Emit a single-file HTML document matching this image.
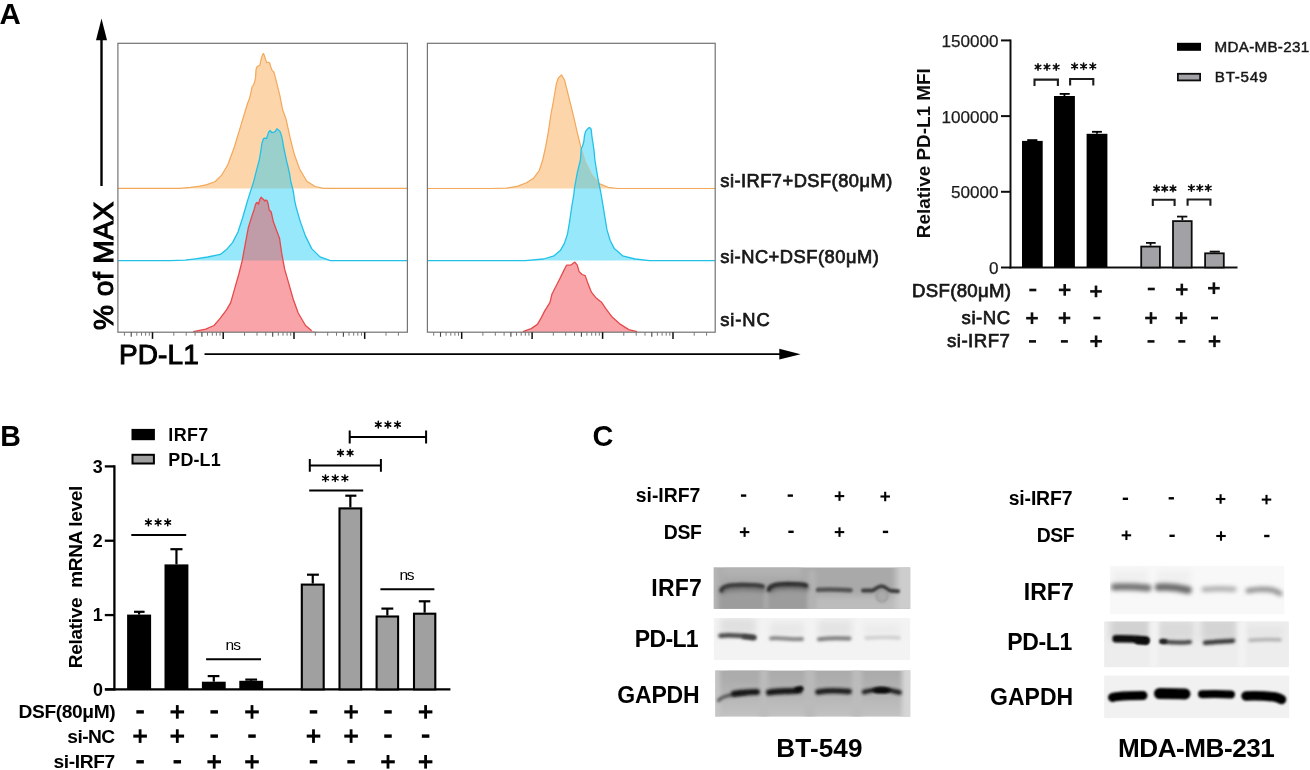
<!DOCTYPE html>
<html><head><meta charset="utf-8"><style>
html,body{margin:0;padding:0;background:#fff;width:1310px;height:770px;overflow:hidden}
text{font-family:'Liberation Sans', sans-serif}
</style></head><body>
<svg width="1310" height="770" viewBox="0 0 1310 770" style="display:block;font-family:'Liberation Sans', sans-serif">
<rect width="1310" height="770" fill="#fff"/>
<defs><filter id="soft" filterUnits="userSpaceOnUse" x="0" y="0" width="1310" height="770"><feGaussianBlur stdDeviation="0.4"/></filter></defs><g filter="url(#soft)">
<clipPath id="orL"><polygon points="118.0,188.4 180.0,188.4 190.4,187.4 200.0,186.2 207.0,184.6 215.3,181.5 221.6,175.2 227.8,164.8 234.0,148.0 240.3,127.3 245.5,110.0 247.6,103.3 249.3,99.1 251.0,92.3 252.2,86.4 253.5,85.1 254.8,81.3 255.6,77.1 256.0,69.5 256.9,67.0 258.6,65.7 259.8,65.3 261.1,59.4 262.4,55.1 263.5,53.4 264.5,56.0 265.8,60.2 267.0,62.7 268.3,62.3 269.6,62.7 270.8,67.0 272.1,70.3 273.8,72.0 275.1,76.3 276.3,81.3 278.0,88.1 279.7,94.8 281.4,103.3 282.7,110.0 286.0,119.0 290.1,137.7 294.3,154.3 299.5,168.8 306.8,181.3 315.1,186.5 323.4,188.4 407.4,188.4"/></clipPath>
<clipPath id="cyL"><polygon points="118.0,260.6 170.0,260.6 185.0,260.2 195.3,258.8 207.8,257.0 220.3,254.4 226.5,249.6 232.7,242.4 238.0,232.0 242.1,219.5 246.3,205.0 247.8,199.9 250.4,191.6 253.5,182.3 256.6,169.8 259.2,160.5 260.8,151.1 261.8,143.9 263.4,138.7 264.9,138.2 266.5,138.7 267.5,135.6 268.5,132.5 270.1,130.4 271.7,132.5 273.7,132.3 275.3,131.4 276.9,128.8 278.4,129.9 280.0,131.4 281.5,135.6 282.6,140.8 283.6,147.0 285.2,154.3 286.7,161.5 288.3,167.8 289.8,175.0 290.9,182.3 292.4,187.5 293.5,192.7 294.5,199.9 296.1,207.0 300.3,221.6 305.5,236.1 311.7,248.6 320.0,256.9 330.4,260.6 407.4,260.6"/></clipPath>
<polygon points="118.0,188.4 180.0,188.4 190.4,187.4 200.0,186.2 207.0,184.6 215.3,181.5 221.6,175.2 227.8,164.8 234.0,148.0 240.3,127.3 245.5,110.0 247.6,103.3 249.3,99.1 251.0,92.3 252.2,86.4 253.5,85.1 254.8,81.3 255.6,77.1 256.0,69.5 256.9,67.0 258.6,65.7 259.8,65.3 261.1,59.4 262.4,55.1 263.5,53.4 264.5,56.0 265.8,60.2 267.0,62.7 268.3,62.3 269.6,62.7 270.8,67.0 272.1,70.3 273.8,72.0 275.1,76.3 276.3,81.3 278.0,88.1 279.7,94.8 281.4,103.3 282.7,110.0 286.0,119.0 290.1,137.7 294.3,154.3 299.5,168.8 306.8,181.3 315.1,186.5 323.4,188.4 407.4,188.4" fill="#fdd5ab"/>
<polygon points="118.0,260.6 170.0,260.6 185.0,260.2 195.3,258.8 207.8,257.0 220.3,254.4 226.5,249.6 232.7,242.4 238.0,232.0 242.1,219.5 246.3,205.0 247.8,199.9 250.4,191.6 253.5,182.3 256.6,169.8 259.2,160.5 260.8,151.1 261.8,143.9 263.4,138.7 264.9,138.2 266.5,138.7 267.5,135.6 268.5,132.5 270.1,130.4 271.7,132.5 273.7,132.3 275.3,131.4 276.9,128.8 278.4,129.9 280.0,131.4 281.5,135.6 282.6,140.8 283.6,147.0 285.2,154.3 286.7,161.5 288.3,167.8 289.8,175.0 290.9,182.3 292.4,187.5 293.5,192.7 294.5,199.9 296.1,207.0 300.3,221.6 305.5,236.1 311.7,248.6 320.0,256.9 330.4,260.6 407.4,260.6" fill="#97e8fb"/>
<polygon points="118.0,260.6 170.0,260.6 185.0,260.2 195.3,258.8 207.8,257.0 220.3,254.4 226.5,249.6 232.7,242.4 238.0,232.0 242.1,219.5 246.3,205.0 247.8,199.9 250.4,191.6 253.5,182.3 256.6,169.8 259.2,160.5 260.8,151.1 261.8,143.9 263.4,138.7 264.9,138.2 266.5,138.7 267.5,135.6 268.5,132.5 270.1,130.4 271.7,132.5 273.7,132.3 275.3,131.4 276.9,128.8 278.4,129.9 280.0,131.4 281.5,135.6 282.6,140.8 283.6,147.0 285.2,154.3 286.7,161.5 288.3,167.8 289.8,175.0 290.9,182.3 292.4,187.5 293.5,192.7 294.5,199.9 296.1,207.0 300.3,221.6 305.5,236.1 311.7,248.6 320.0,256.9 330.4,260.6 407.4,260.6" fill="#99d0cc" clip-path="url(#orL)"/>
<polygon points="118.0,332.0 190.0,332.0 193.3,331.7 205.7,329.2 214.0,325.5 220.3,318.2 226.5,309.9 230.7,302.6 234.8,288.1 239.0,273.5 242.1,261.1 245.2,244.4 248.3,227.8 251.5,217.4 254.1,209.7 255.6,204.2 256.9,202.4 258.4,204.2 259.9,199.3 261.1,197.2 262.4,198.7 263.6,199.3 264.8,201.1 266.0,199.9 267.3,201.1 268.2,204.2 269.1,209.7 271.2,212.0 273.3,221.6 276.4,229.9 279.5,238.2 281.6,252.7 284.7,269.4 288.9,283.9 293.0,298.5 298.2,313.0 305.5,325.5 311.7,330.7 318.0,332.0 407.4,332.0" fill="#f8a4a8"/>
<polygon points="118.0,332.0 190.0,332.0 193.3,331.7 205.7,329.2 214.0,325.5 220.3,318.2 226.5,309.9 230.7,302.6 234.8,288.1 239.0,273.5 242.1,261.1 245.2,244.4 248.3,227.8 251.5,217.4 254.1,209.7 255.6,204.2 256.9,202.4 258.4,204.2 259.9,199.3 261.1,197.2 262.4,198.7 263.6,199.3 264.8,201.1 266.0,199.9 267.3,201.1 268.2,204.2 269.1,209.7 271.2,212.0 273.3,221.6 276.4,229.9 279.5,238.2 281.6,252.7 284.7,269.4 288.9,283.9 293.0,298.5 298.2,313.0 305.5,325.5 311.7,330.7 318.0,332.0 407.4,332.0" fill="#c09ca8" clip-path="url(#cyL)"/>
<mask id="ncL" maskUnits="userSpaceOnUse" x="0" y="0" width="1310" height="770"><rect x="0" y="0" width="1310" height="770" fill="#fff"/><polygon points="118.0,260.6 170.0,260.6 185.0,260.2 195.3,258.8 207.8,257.0 220.3,254.4 226.5,249.6 232.7,242.4 238.0,232.0 242.1,219.5 246.3,205.0 247.8,199.9 250.4,191.6 253.5,182.3 256.6,169.8 259.2,160.5 260.8,151.1 261.8,143.9 263.4,138.7 264.9,138.2 266.5,138.7 267.5,135.6 268.5,132.5 270.1,130.4 271.7,132.5 273.7,132.3 275.3,131.4 276.9,128.8 278.4,129.9 280.0,131.4 281.5,135.6 282.6,140.8 283.6,147.0 285.2,154.3 286.7,161.5 288.3,167.8 289.8,175.0 290.9,182.3 292.4,187.5 293.5,192.7 294.5,199.9 296.1,207.0 300.3,221.6 305.5,236.1 311.7,248.6 320.0,256.9 330.4,260.6 407.4,260.6" fill="#000"/></mask>
<polyline points="118.0,188.4 180.0,188.4 190.4,187.4 200.0,186.2 207.0,184.6 215.3,181.5 221.6,175.2 227.8,164.8 234.0,148.0 240.3,127.3 245.5,110.0 247.6,103.3 249.3,99.1 251.0,92.3 252.2,86.4 253.5,85.1 254.8,81.3 255.6,77.1 256.0,69.5 256.9,67.0 258.6,65.7 259.8,65.3 261.1,59.4 262.4,55.1 263.5,53.4 264.5,56.0 265.8,60.2 267.0,62.7 268.3,62.3 269.6,62.7 270.8,67.0 272.1,70.3 273.8,72.0 275.1,76.3 276.3,81.3 278.0,88.1 279.7,94.8 281.4,103.3 282.7,110.0 286.0,119.0 290.1,137.7 294.3,154.3 299.5,168.8 306.8,181.3 315.1,186.5 323.4,188.4 407.4,188.4" fill="none" stroke="#f3a85a" stroke-width="1.2" stroke-linejoin="round" mask="url(#ncL)"/>
<polyline points="118.0,188.4 180.0,188.4 190.4,187.4 200.0,186.2 207.0,184.6 215.3,181.5 221.6,175.2 227.8,164.8 234.0,148.0 240.3,127.3 245.5,110.0 247.6,103.3 249.3,99.1 251.0,92.3 252.2,86.4 253.5,85.1 254.8,81.3 255.6,77.1 256.0,69.5 256.9,67.0 258.6,65.7 259.8,65.3 261.1,59.4 262.4,55.1 263.5,53.4 264.5,56.0 265.8,60.2 267.0,62.7 268.3,62.3 269.6,62.7 270.8,67.0 272.1,70.3 273.8,72.0 275.1,76.3 276.3,81.3 278.0,88.1 279.7,94.8 281.4,103.3 282.7,110.0 286.0,119.0 290.1,137.7 294.3,154.3 299.5,168.8 306.8,181.3 315.1,186.5 323.4,188.4 407.4,188.4" fill="none" stroke="#f3a85a" stroke-width="1.2" stroke-linejoin="round" clip-path="url(#cyL)" opacity="0.35"/>
<polyline points="118.0,260.6 170.0,260.6 185.0,260.2 195.3,258.8 207.8,257.0 220.3,254.4 226.5,249.6 232.7,242.4 238.0,232.0 242.1,219.5 246.3,205.0 247.8,199.9 250.4,191.6 253.5,182.3 256.6,169.8 259.2,160.5 260.8,151.1 261.8,143.9 263.4,138.7 264.9,138.2 266.5,138.7 267.5,135.6 268.5,132.5 270.1,130.4 271.7,132.5 273.7,132.3 275.3,131.4 276.9,128.8 278.4,129.9 280.0,131.4 281.5,135.6 282.6,140.8 283.6,147.0 285.2,154.3 286.7,161.5 288.3,167.8 289.8,175.0 290.9,182.3 292.4,187.5 293.5,192.7 294.5,199.9 296.1,207.0 300.3,221.6 305.5,236.1 311.7,248.6 320.0,256.9 330.4,260.6 407.4,260.6" fill="none" stroke="#22c2e8" stroke-width="1.3" stroke-linejoin="round"/>
<polyline points="193.3,331.7 205.7,329.2 214.0,325.5 220.3,318.2 226.5,309.9 230.7,302.6 234.8,288.1 239.0,273.5 242.1,261.1 245.2,244.4 248.3,227.8 251.5,217.4 254.1,209.7 255.6,204.2 256.9,202.4 258.4,204.2 259.9,199.3 261.1,197.2 262.4,198.7 263.6,199.3 264.8,201.1 266.0,199.9 267.3,201.1 268.2,204.2 269.1,209.7 271.2,212.0 273.3,221.6 276.4,229.9 279.5,238.2 281.6,252.7 284.7,269.4 288.9,283.9 293.0,298.5 298.2,313.0 305.5,325.5 311.7,330.7" fill="none" stroke="#e64a4c" stroke-width="1.3" stroke-linejoin="round"/>
<rect x="117.9" y="43.3" width="289.5" height="288.9" fill="none" stroke="#747474" stroke-width="1.2"/>
<line x1="124.4" y1="332.2" x2="124.4" y2="335.7" stroke="#777" stroke-width="1"/>
<line x1="131.2" y1="332.2" x2="131.2" y2="336.8" stroke="#444" stroke-width="1.1"/>
<line x1="136.8" y1="332.2" x2="136.8" y2="335.7" stroke="#777" stroke-width="1"/>
<line x1="141.5" y1="332.2" x2="141.5" y2="335.7" stroke="#777" stroke-width="1"/>
<line x1="145.6" y1="332.2" x2="145.6" y2="335.7" stroke="#777" stroke-width="1"/>
<line x1="149.3" y1="332.2" x2="149.3" y2="335.7" stroke="#777" stroke-width="1"/>
<line x1="152.5" y1="332.2" x2="152.5" y2="338.9" stroke="#111" stroke-width="1.5"/>
<line x1="173.8" y1="332.2" x2="173.8" y2="335.7" stroke="#777" stroke-width="1"/>
<line x1="186.2" y1="332.2" x2="186.2" y2="335.7" stroke="#777" stroke-width="1"/>
<line x1="195.1" y1="332.2" x2="195.1" y2="335.7" stroke="#777" stroke-width="1"/>
<line x1="201.9" y1="332.2" x2="201.9" y2="336.8" stroke="#444" stroke-width="1.1"/>
<line x1="207.5" y1="332.2" x2="207.5" y2="335.7" stroke="#777" stroke-width="1"/>
<line x1="212.3" y1="332.2" x2="212.3" y2="335.7" stroke="#777" stroke-width="1"/>
<line x1="216.4" y1="332.2" x2="216.4" y2="335.7" stroke="#777" stroke-width="1"/>
<line x1="220.0" y1="332.2" x2="220.0" y2="335.7" stroke="#777" stroke-width="1"/>
<line x1="223.2" y1="332.2" x2="223.2" y2="338.9" stroke="#111" stroke-width="1.5"/>
<line x1="244.5" y1="332.2" x2="244.5" y2="335.7" stroke="#777" stroke-width="1"/>
<line x1="257.0" y1="332.2" x2="257.0" y2="335.7" stroke="#777" stroke-width="1"/>
<line x1="265.8" y1="332.2" x2="265.8" y2="335.7" stroke="#777" stroke-width="1"/>
<line x1="272.7" y1="332.2" x2="272.7" y2="336.8" stroke="#444" stroke-width="1.1"/>
<line x1="278.3" y1="332.2" x2="278.3" y2="335.7" stroke="#777" stroke-width="1"/>
<line x1="283.0" y1="332.2" x2="283.0" y2="335.7" stroke="#777" stroke-width="1"/>
<line x1="287.1" y1="332.2" x2="287.1" y2="335.7" stroke="#777" stroke-width="1"/>
<line x1="290.7" y1="332.2" x2="290.7" y2="335.7" stroke="#777" stroke-width="1"/>
<line x1="294.0" y1="332.2" x2="294.0" y2="338.9" stroke="#111" stroke-width="1.5"/>
<line x1="315.3" y1="332.2" x2="315.3" y2="335.7" stroke="#777" stroke-width="1"/>
<line x1="327.7" y1="332.2" x2="327.7" y2="335.7" stroke="#777" stroke-width="1"/>
<line x1="336.5" y1="332.2" x2="336.5" y2="335.7" stroke="#777" stroke-width="1"/>
<line x1="343.4" y1="332.2" x2="343.4" y2="336.8" stroke="#444" stroke-width="1.1"/>
<line x1="349.0" y1="332.2" x2="349.0" y2="335.7" stroke="#777" stroke-width="1"/>
<line x1="353.7" y1="332.2" x2="353.7" y2="335.7" stroke="#777" stroke-width="1"/>
<line x1="357.8" y1="332.2" x2="357.8" y2="335.7" stroke="#777" stroke-width="1"/>
<line x1="361.5" y1="332.2" x2="361.5" y2="335.7" stroke="#777" stroke-width="1"/>
<line x1="364.7" y1="332.2" x2="364.7" y2="338.9" stroke="#111" stroke-width="1.5"/>
<line x1="386.0" y1="332.2" x2="386.0" y2="335.7" stroke="#777" stroke-width="1"/>
<line x1="398.4" y1="332.2" x2="398.4" y2="335.7" stroke="#777" stroke-width="1"/>
<clipPath id="orR"><polygon points="428.0,188.5 490.0,188.5 506.4,188.2 517.3,186.4 526.4,182.7 533.6,178.2 539.1,170.9 542.7,160.0 545.5,147.3 548.2,132.7 550.9,114.5 553.6,100.0 556.4,83.6 558.2,78.2 561.5,74.9 564.5,80.0 566.4,87.3 570.0,101.8 573.6,116.4 577.3,132.7 580.9,147.3 585.5,161.8 591.8,174.5 599.1,183.6 608.2,187.3 617.3,188.5 715.0,188.5"/></clipPath>
<clipPath id="cyR"><polygon points="428.0,260.6 524.9,260.6 543.6,259.0 554.0,255.8 560.3,250.6 564.4,243.4 567.5,234.0 569.6,221.6 571.7,207.0 573.8,194.5 574.5,188.0 577.3,172.7 580.4,160.0 581.2,149.1 582.5,146.0 583.8,141.8 584.5,135.6 585.6,131.4 587.1,129.4 589.2,127.5 590.8,128.3 591.3,130.4 591.8,135.6 592.6,140.8 593.4,146.0 594.2,152.2 594.9,160.0 596.5,170.0 598.2,180.0 600.8,192.5 602.9,204.9 604.9,217.4 607.0,229.9 610.1,240.3 614.3,248.6 622.6,255.8 635.1,259.0 649.6,260.6 715.0,260.6"/></clipPath>
<polygon points="428.0,188.5 490.0,188.5 506.4,188.2 517.3,186.4 526.4,182.7 533.6,178.2 539.1,170.9 542.7,160.0 545.5,147.3 548.2,132.7 550.9,114.5 553.6,100.0 556.4,83.6 558.2,78.2 561.5,74.9 564.5,80.0 566.4,87.3 570.0,101.8 573.6,116.4 577.3,132.7 580.9,147.3 585.5,161.8 591.8,174.5 599.1,183.6 608.2,187.3 617.3,188.5 715.0,188.5" fill="#fdd5ab"/>
<polygon points="428.0,260.6 524.9,260.6 543.6,259.0 554.0,255.8 560.3,250.6 564.4,243.4 567.5,234.0 569.6,221.6 571.7,207.0 573.8,194.5 574.5,188.0 577.3,172.7 580.4,160.0 581.2,149.1 582.5,146.0 583.8,141.8 584.5,135.6 585.6,131.4 587.1,129.4 589.2,127.5 590.8,128.3 591.3,130.4 591.8,135.6 592.6,140.8 593.4,146.0 594.2,152.2 594.9,160.0 596.5,170.0 598.2,180.0 600.8,192.5 602.9,204.9 604.9,217.4 607.0,229.9 610.1,240.3 614.3,248.6 622.6,255.8 635.1,259.0 649.6,260.6 715.0,260.6" fill="#97e8fb"/>
<polygon points="428.0,260.6 524.9,260.6 543.6,259.0 554.0,255.8 560.3,250.6 564.4,243.4 567.5,234.0 569.6,221.6 571.7,207.0 573.8,194.5 574.5,188.0 577.3,172.7 580.4,160.0 581.2,149.1 582.5,146.0 583.8,141.8 584.5,135.6 585.6,131.4 587.1,129.4 589.2,127.5 590.8,128.3 591.3,130.4 591.8,135.6 592.6,140.8 593.4,146.0 594.2,152.2 594.9,160.0 596.5,170.0 598.2,180.0 600.8,192.5 602.9,204.9 604.9,217.4 607.0,229.9 610.1,240.3 614.3,248.6 622.6,255.8 635.1,259.0 649.6,260.6 715.0,260.6" fill="#99d0cc" clip-path="url(#orR)"/>
<polygon points="428.0,332.0 515.0,332.0 522.9,331.7 531.2,328.6 537.4,324.4 541.6,317.1 544.7,310.9 549.9,302.6 551.9,294.3 556.1,286.0 560.3,277.7 563.4,271.4 566.5,265.2 570.6,265.2 574.8,262.1 577.3,265.2 579.0,271.4 582.1,274.5 585.2,275.6 587.3,281.8 591.4,292.2 595.6,297.4 601.8,302.6 606.0,308.8 612.2,317.1 620.5,324.4 628.8,329.6 637.1,331.7 645.0,332.0 715.0,332.0" fill="#f8a4a8"/>
<polygon points="428.0,332.0 515.0,332.0 522.9,331.7 531.2,328.6 537.4,324.4 541.6,317.1 544.7,310.9 549.9,302.6 551.9,294.3 556.1,286.0 560.3,277.7 563.4,271.4 566.5,265.2 570.6,265.2 574.8,262.1 577.3,265.2 579.0,271.4 582.1,274.5 585.2,275.6 587.3,281.8 591.4,292.2 595.6,297.4 601.8,302.6 606.0,308.8 612.2,317.1 620.5,324.4 628.8,329.6 637.1,331.7 645.0,332.0 715.0,332.0" fill="#c09ca8" clip-path="url(#cyR)"/>
<mask id="ncR" maskUnits="userSpaceOnUse" x="0" y="0" width="1310" height="770"><rect x="0" y="0" width="1310" height="770" fill="#fff"/><polygon points="428.0,260.6 524.9,260.6 543.6,259.0 554.0,255.8 560.3,250.6 564.4,243.4 567.5,234.0 569.6,221.6 571.7,207.0 573.8,194.5 574.5,188.0 577.3,172.7 580.4,160.0 581.2,149.1 582.5,146.0 583.8,141.8 584.5,135.6 585.6,131.4 587.1,129.4 589.2,127.5 590.8,128.3 591.3,130.4 591.8,135.6 592.6,140.8 593.4,146.0 594.2,152.2 594.9,160.0 596.5,170.0 598.2,180.0 600.8,192.5 602.9,204.9 604.9,217.4 607.0,229.9 610.1,240.3 614.3,248.6 622.6,255.8 635.1,259.0 649.6,260.6 715.0,260.6" fill="#000"/></mask>
<polyline points="428.0,188.5 490.0,188.5 506.4,188.2 517.3,186.4 526.4,182.7 533.6,178.2 539.1,170.9 542.7,160.0 545.5,147.3 548.2,132.7 550.9,114.5 553.6,100.0 556.4,83.6 558.2,78.2 561.5,74.9 564.5,80.0 566.4,87.3 570.0,101.8 573.6,116.4 577.3,132.7 580.9,147.3 585.5,161.8 591.8,174.5 599.1,183.6 608.2,187.3 617.3,188.5 715.0,188.5" fill="none" stroke="#f3a85a" stroke-width="1.2" stroke-linejoin="round" mask="url(#ncR)"/>
<polyline points="428.0,188.5 490.0,188.5 506.4,188.2 517.3,186.4 526.4,182.7 533.6,178.2 539.1,170.9 542.7,160.0 545.5,147.3 548.2,132.7 550.9,114.5 553.6,100.0 556.4,83.6 558.2,78.2 561.5,74.9 564.5,80.0 566.4,87.3 570.0,101.8 573.6,116.4 577.3,132.7 580.9,147.3 585.5,161.8 591.8,174.5 599.1,183.6 608.2,187.3 617.3,188.5 715.0,188.5" fill="none" stroke="#f3a85a" stroke-width="1.2" stroke-linejoin="round" clip-path="url(#cyR)" opacity="0.35"/>
<polyline points="428.0,260.6 524.9,260.6 543.6,259.0 554.0,255.8 560.3,250.6 564.4,243.4 567.5,234.0 569.6,221.6 571.7,207.0 573.8,194.5 574.5,188.0 577.3,172.7 580.4,160.0 581.2,149.1 582.5,146.0 583.8,141.8 584.5,135.6 585.6,131.4 587.1,129.4 589.2,127.5 590.8,128.3 591.3,130.4 591.8,135.6 592.6,140.8 593.4,146.0 594.2,152.2 594.9,160.0 596.5,170.0 598.2,180.0 600.8,192.5 602.9,204.9 604.9,217.4 607.0,229.9 610.1,240.3 614.3,248.6 622.6,255.8 635.1,259.0 649.6,260.6 715.0,260.6" fill="none" stroke="#22c2e8" stroke-width="1.3" stroke-linejoin="round"/>
<polyline points="522.9,331.7 531.2,328.6 537.4,324.4 541.6,317.1 544.7,310.9 549.9,302.6 551.9,294.3 556.1,286.0 560.3,277.7 563.4,271.4 566.5,265.2 570.6,265.2 574.8,262.1 577.3,265.2 579.0,271.4 582.1,274.5 585.2,275.6 587.3,281.8 591.4,292.2 595.6,297.4 601.8,302.6 606.0,308.8 612.2,317.1 620.5,324.4 628.8,329.6 637.1,331.7" fill="none" stroke="#e64a4c" stroke-width="1.3" stroke-linejoin="round"/>
<rect x="427.4" y="43.3" width="287.8" height="288.9" fill="none" stroke="#747474" stroke-width="1.2"/>
<line x1="433.7" y1="332.2" x2="433.7" y2="335.7" stroke="#777" stroke-width="1"/>
<line x1="440.5" y1="332.2" x2="440.5" y2="336.8" stroke="#444" stroke-width="1.1"/>
<line x1="446.1" y1="332.2" x2="446.1" y2="335.7" stroke="#777" stroke-width="1"/>
<line x1="450.8" y1="332.2" x2="450.8" y2="335.7" stroke="#777" stroke-width="1"/>
<line x1="454.9" y1="332.2" x2="454.9" y2="335.7" stroke="#777" stroke-width="1"/>
<line x1="458.5" y1="332.2" x2="458.5" y2="335.7" stroke="#777" stroke-width="1"/>
<line x1="461.7" y1="332.2" x2="461.7" y2="338.9" stroke="#111" stroke-width="1.5"/>
<line x1="482.9" y1="332.2" x2="482.9" y2="335.7" stroke="#777" stroke-width="1"/>
<line x1="495.3" y1="332.2" x2="495.3" y2="335.7" stroke="#777" stroke-width="1"/>
<line x1="504.1" y1="332.2" x2="504.1" y2="335.7" stroke="#777" stroke-width="1"/>
<line x1="510.9" y1="332.2" x2="510.9" y2="336.8" stroke="#444" stroke-width="1.1"/>
<line x1="516.5" y1="332.2" x2="516.5" y2="335.7" stroke="#777" stroke-width="1"/>
<line x1="521.2" y1="332.2" x2="521.2" y2="335.7" stroke="#777" stroke-width="1"/>
<line x1="525.3" y1="332.2" x2="525.3" y2="335.7" stroke="#777" stroke-width="1"/>
<line x1="528.9" y1="332.2" x2="528.9" y2="335.7" stroke="#777" stroke-width="1"/>
<line x1="532.1" y1="332.2" x2="532.1" y2="338.9" stroke="#111" stroke-width="1.5"/>
<line x1="553.3" y1="332.2" x2="553.3" y2="335.7" stroke="#777" stroke-width="1"/>
<line x1="565.7" y1="332.2" x2="565.7" y2="335.7" stroke="#777" stroke-width="1"/>
<line x1="574.5" y1="332.2" x2="574.5" y2="335.7" stroke="#777" stroke-width="1"/>
<line x1="581.4" y1="332.2" x2="581.4" y2="336.8" stroke="#444" stroke-width="1.1"/>
<line x1="586.9" y1="332.2" x2="586.9" y2="335.7" stroke="#777" stroke-width="1"/>
<line x1="591.7" y1="332.2" x2="591.7" y2="335.7" stroke="#777" stroke-width="1"/>
<line x1="595.7" y1="332.2" x2="595.7" y2="335.7" stroke="#777" stroke-width="1"/>
<line x1="599.3" y1="332.2" x2="599.3" y2="335.7" stroke="#777" stroke-width="1"/>
<line x1="602.6" y1="332.2" x2="602.6" y2="338.9" stroke="#111" stroke-width="1.5"/>
<line x1="623.8" y1="332.2" x2="623.8" y2="335.7" stroke="#777" stroke-width="1"/>
<line x1="636.2" y1="332.2" x2="636.2" y2="335.7" stroke="#777" stroke-width="1"/>
<line x1="645.0" y1="332.2" x2="645.0" y2="335.7" stroke="#777" stroke-width="1"/>
<line x1="651.8" y1="332.2" x2="651.8" y2="336.8" stroke="#444" stroke-width="1.1"/>
<line x1="657.4" y1="332.2" x2="657.4" y2="335.7" stroke="#777" stroke-width="1"/>
<line x1="662.1" y1="332.2" x2="662.1" y2="335.7" stroke="#777" stroke-width="1"/>
<line x1="666.2" y1="332.2" x2="666.2" y2="335.7" stroke="#777" stroke-width="1"/>
<line x1="669.8" y1="332.2" x2="669.8" y2="335.7" stroke="#777" stroke-width="1"/>
<line x1="673.0" y1="332.2" x2="673.0" y2="338.9" stroke="#111" stroke-width="1.5"/>
<line x1="694.2" y1="332.2" x2="694.2" y2="335.7" stroke="#777" stroke-width="1"/>
<line x1="706.6" y1="332.2" x2="706.6" y2="335.7" stroke="#777" stroke-width="1"/>
<line x1="101.5" y1="186" x2="101.5" y2="38" stroke="#000" stroke-width="2.4"/>
<polygon points="96,40.2 107,40.2 101.5,18.6" fill="#000"/>
<line x1="204.5" y1="354.2" x2="781" y2="354.2" stroke="#000" stroke-width="1.8"/>
<polygon points="779.3,348.8 779.3,359.6 800.6,354.2" fill="#000"/>
<text x="-0.44" y="23.70" font-size="29.3" font-weight="bold" fill="#000" textLength="21.31" lengthAdjust="spacingAndGlyphs" >A</text>
<text x="118.90" y="364.00" font-size="28" font-weight="normal" fill="#000" textLength="79.88" lengthAdjust="spacing" stroke="#000" stroke-width="1.0">PD-L1</text>
<text transform="translate(112.80,328.90) rotate(-90)" x="-1.02" y="0" font-size="28.2" font-weight="normal" fill="#000" textLength="128.20" lengthAdjust="spacing" stroke="#000" stroke-width="1.1">% of MAX</text>
<text x="720.29" y="186.60" font-size="18.3" font-weight="normal" fill="#1a1a1a" textLength="171.94" lengthAdjust="spacing" stroke="#1a1a1a" stroke-width="0.75">si-IRF7+DSF(80μM)</text>
<text x="720.29" y="262.60" font-size="18.3" font-weight="normal" fill="#1a1a1a" textLength="158.65" lengthAdjust="spacing" stroke="#1a1a1a" stroke-width="0.75">si-NC+DSF(80μM)</text>
<text x="720.29" y="325.80" font-size="18.3" font-weight="normal" fill="#1a1a1a" textLength="49.32" lengthAdjust="spacing" stroke="#1a1a1a" stroke-width="0.75">si-NC</text>
<line x1="1010.5" y1="39.5" x2="1010.5" y2="268.5" stroke="#111" stroke-width="2"/>
<line x1="1009.5" y1="267.5" x2="1237.5" y2="267.5" stroke="#111" stroke-width="2"/>
<line x1="1001" y1="40.40" x2="1010.5" y2="40.40" stroke="#111" stroke-width="2"/>
<text x="941.50" y="46.80" font-size="17.1" font-weight="normal" fill="#1a1a1a" textLength="57.06" lengthAdjust="spacing" stroke="#1a1a1a" stroke-width="0.25">150000</text>
<line x1="1001" y1="116.10" x2="1010.5" y2="116.10" stroke="#111" stroke-width="2"/>
<text x="941.50" y="122.50" font-size="17.1" font-weight="normal" fill="#1a1a1a" textLength="57.06" lengthAdjust="spacing" stroke="#1a1a1a" stroke-width="0.25">100000</text>
<line x1="1001" y1="191.80" x2="1010.5" y2="191.80" stroke="#111" stroke-width="2"/>
<text x="951.01" y="198.20" font-size="17.1" font-weight="normal" fill="#1a1a1a" textLength="47.55" lengthAdjust="spacing" stroke="#1a1a1a" stroke-width="0.25">50000</text>
<line x1="1001" y1="267.50" x2="1010.5" y2="267.50" stroke="#111" stroke-width="2"/>
<text x="989.06" y="273.90" font-size="17.1" font-weight="normal" fill="#1a1a1a" textLength="9.51" lengthAdjust="spacing" stroke="#1a1a1a" stroke-width="0.25">0</text>
<text transform="translate(929.90,236.90) rotate(-90)" x="-1.27" y="0" font-size="18.9" font-weight="bold" fill="#111" textLength="169.93" lengthAdjust="spacing" >Relative PD-L1 MFI</text>
<rect x="1022" y="140.9" width="20.70" height="126.60" fill="#000"/>
<line x1="1032.35" y1="140.9" x2="1032.35" y2="140.1" stroke="#000" stroke-width="1.8"/>
<line x1="1027.2" y1="140.1" x2="1037.4" y2="140.1" stroke="#000" stroke-width="1.8"/>
<rect x="1054" y="96" width="20.90" height="171.50" fill="#000"/>
<line x1="1064.45" y1="96" x2="1064.45" y2="93.9" stroke="#000" stroke-width="1.8"/>
<line x1="1059.7" y1="93.9" x2="1069.7" y2="93.9" stroke="#000" stroke-width="1.8"/>
<rect x="1086.6" y="133.8" width="20.80" height="133.70" fill="#000"/>
<line x1="1097.00" y1="133.8" x2="1097.00" y2="131.8" stroke="#000" stroke-width="1.8"/>
<line x1="1092" y1="131.8" x2="1101.9" y2="131.8" stroke="#000" stroke-width="1.8"/>
<line x1="1150.55" y1="245.7" x2="1150.55" y2="242.9" stroke="#111" stroke-width="1.8"/>
<line x1="1146" y1="242.9" x2="1155.7" y2="242.9" stroke="#111" stroke-width="1.8"/>
<rect x="1141.20" y="246.60" width="18.70" height="20.90" fill="#a2a2a6" stroke="#111" stroke-width="1.8"/>
<line x1="1182.35" y1="220.2" x2="1182.35" y2="216.6" stroke="#111" stroke-width="1.8"/>
<line x1="1177" y1="216.6" x2="1187.3" y2="216.6" stroke="#111" stroke-width="1.8"/>
<rect x="1173.00" y="221.10" width="18.70" height="46.40" fill="#a2a2a6" stroke="#111" stroke-width="1.8"/>
<line x1="1214.45" y1="252.4" x2="1214.45" y2="251.6" stroke="#111" stroke-width="1.8"/>
<line x1="1209.7" y1="251.6" x2="1219.8" y2="251.6" stroke="#111" stroke-width="1.8"/>
<rect x="1205.10" y="253.30" width="18.70" height="14.20" fill="#a2a2a6" stroke="#111" stroke-width="1.8"/>
<path d="M1034.5,86V79.6H1057.9V86" stroke="#1e1e1e" stroke-width="2.1" fill="none"/>
<path d="M1070.1,85.5V79H1093.3V85.5" stroke="#1e1e1e" stroke-width="2.1" fill="none"/>
<path d="M1152.8,206V199.8H1174.6V206" stroke="#1e1e1e" stroke-width="2.1" fill="none"/>
<path d="M1187.6,205.8V199.5H1210.4V205.8" stroke="#1e1e1e" stroke-width="2.1" fill="none"/>
<path d="M1038.00,63.80V70.20M1035.23,65.40L1040.77,68.60M1035.23,68.60L1040.77,65.40" stroke="#111" stroke-width="1.6" stroke-linecap="round" fill="none"/>
<circle cx="1038.00" cy="67.00" r="1.52" fill="#111"/>
<path d="M1047.00,63.80V70.20M1044.23,65.40L1049.77,68.60M1044.23,68.60L1049.77,65.40" stroke="#111" stroke-width="1.6" stroke-linecap="round" fill="none"/>
<circle cx="1047.00" cy="67.00" r="1.52" fill="#111"/>
<path d="M1056.20,63.80V70.20M1053.43,65.40L1058.97,68.60M1053.43,68.60L1058.97,65.40" stroke="#111" stroke-width="1.6" stroke-linecap="round" fill="none"/>
<circle cx="1056.20" cy="67.00" r="1.52" fill="#111"/>
<path d="M1074.60,63.00V69.40M1071.83,64.60L1077.37,67.80M1071.83,67.80L1077.37,64.60" stroke="#111" stroke-width="1.6" stroke-linecap="round" fill="none"/>
<circle cx="1074.60" cy="66.20" r="1.52" fill="#111"/>
<path d="M1083.60,63.00V69.40M1080.83,64.60L1086.37,67.80M1080.83,67.80L1086.37,64.60" stroke="#111" stroke-width="1.6" stroke-linecap="round" fill="none"/>
<circle cx="1083.60" cy="66.20" r="1.52" fill="#111"/>
<path d="M1092.80,63.00V69.40M1090.03,64.60L1095.57,67.80M1090.03,67.80L1095.57,64.60" stroke="#111" stroke-width="1.6" stroke-linecap="round" fill="none"/>
<circle cx="1092.80" cy="66.20" r="1.52" fill="#111"/>
<path d="M1156.60,185.40V191.80M1153.83,187.00L1159.37,190.20M1153.83,190.20L1159.37,187.00" stroke="#111" stroke-width="1.6" stroke-linecap="round" fill="none"/>
<circle cx="1156.60" cy="188.60" r="1.52" fill="#111"/>
<path d="M1164.70,185.40V191.80M1161.93,187.00L1167.47,190.20M1161.93,190.20L1167.47,187.00" stroke="#111" stroke-width="1.6" stroke-linecap="round" fill="none"/>
<circle cx="1164.70" cy="188.60" r="1.52" fill="#111"/>
<path d="M1173.00,185.40V191.80M1170.23,187.00L1175.77,190.20M1170.23,190.20L1175.77,187.00" stroke="#111" stroke-width="1.6" stroke-linecap="round" fill="none"/>
<circle cx="1173.00" cy="188.60" r="1.52" fill="#111"/>
<path d="M1191.40,184.80V191.20M1188.63,186.40L1194.17,189.60M1188.63,189.60L1194.17,186.40" stroke="#111" stroke-width="1.6" stroke-linecap="round" fill="none"/>
<circle cx="1191.40" cy="188.00" r="1.52" fill="#111"/>
<path d="M1199.80,184.80V191.20M1197.03,186.40L1202.57,189.60M1197.03,189.60L1202.57,186.40" stroke="#111" stroke-width="1.6" stroke-linecap="round" fill="none"/>
<circle cx="1199.80" cy="188.00" r="1.52" fill="#111"/>
<path d="M1208.30,184.80V191.20M1205.53,186.40L1211.07,189.60M1205.53,189.60L1211.07,186.40" stroke="#111" stroke-width="1.6" stroke-linecap="round" fill="none"/>
<circle cx="1208.30" cy="188.00" r="1.52" fill="#111"/>
<rect x="1177" y="42.8" width="24" height="8" fill="#000"/>
<rect x="1177.9" y="73.8" width="22.2" height="6.6" fill="#a2a2a6" stroke="#111" stroke-width="1.8"/>
<text x="1214.55" y="52.10" font-size="15.2" font-weight="normal" fill="#1a1a1a" textLength="94.59" lengthAdjust="spacing" stroke="#1a1a1a" stroke-width="0.45">MDA-MB-231</text>
<text x="1214.85" y="81.90" font-size="15.2" font-weight="normal" fill="#1a1a1a" textLength="52.36" lengthAdjust="spacing" stroke="#1a1a1a" stroke-width="0.45">BT-549</text>
<text x="911.97" y="297.00" font-size="18.6" font-weight="normal" fill="#1a1a1a" textLength="99.07" lengthAdjust="spacing" stroke="#1a1a1a" stroke-width="0.75">DSF(80μM)</text>
<text x="961.58" y="323.60" font-size="18.6" font-weight="normal" fill="#1a1a1a" textLength="48.54" lengthAdjust="spacing" stroke="#1a1a1a" stroke-width="0.75">si-NC</text>
<text x="947.08" y="347.00" font-size="18.6" font-weight="normal" fill="#1a1a1a" textLength="62.75" lengthAdjust="spacing" stroke="#1a1a1a" stroke-width="0.75">si-IRF7</text>
<rect x="1029.30" y="288.70" width="7.00" height="2.60" fill="#111"/>
<rect x="1058.85" y="288.60" width="11.70" height="2.60" fill="#111"/>
<rect x="1063.40" y="284.05" width="2.60" height="11.70" fill="#111"/>
<rect x="1090.15" y="290.10" width="11.70" height="2.60" fill="#111"/>
<rect x="1094.70" y="285.55" width="2.60" height="11.70" fill="#111"/>
<rect x="1147.80" y="287.70" width="7.00" height="2.60" fill="#111"/>
<rect x="1175.95" y="288.20" width="11.70" height="2.60" fill="#111"/>
<rect x="1180.50" y="283.65" width="2.60" height="11.70" fill="#111"/>
<rect x="1208.05" y="286.90" width="11.70" height="2.60" fill="#111"/>
<rect x="1212.60" y="282.35" width="2.60" height="11.70" fill="#111"/>
<rect x="1026.15" y="316.90" width="11.70" height="2.60" fill="#111"/>
<rect x="1030.70" y="312.35" width="2.60" height="11.70" fill="#111"/>
<rect x="1058.65" y="316.70" width="11.70" height="2.60" fill="#111"/>
<rect x="1063.20" y="312.15" width="2.60" height="11.70" fill="#111"/>
<rect x="1093.40" y="316.70" width="7.00" height="2.60" fill="#111"/>
<rect x="1145.15" y="316.70" width="11.70" height="2.60" fill="#111"/>
<rect x="1149.70" y="312.15" width="2.60" height="11.70" fill="#111"/>
<rect x="1175.45" y="316.70" width="11.70" height="2.60" fill="#111"/>
<rect x="1180.00" y="312.15" width="2.60" height="11.70" fill="#111"/>
<rect x="1211.00" y="316.70" width="7.00" height="2.60" fill="#111"/>
<rect x="1029.00" y="340.10" width="7.00" height="2.60" fill="#111"/>
<rect x="1060.90" y="340.10" width="7.00" height="2.60" fill="#111"/>
<rect x="1090.25" y="340.00" width="11.70" height="2.60" fill="#111"/>
<rect x="1094.80" y="335.45" width="2.60" height="11.70" fill="#111"/>
<rect x="1147.50" y="340.10" width="7.00" height="2.60" fill="#111"/>
<rect x="1178.30" y="340.10" width="7.00" height="2.60" fill="#111"/>
<rect x="1208.65" y="340.00" width="11.70" height="2.60" fill="#111"/>
<rect x="1213.20" y="335.45" width="2.60" height="11.70" fill="#111"/>
<text x="0.29" y="445.50" font-size="29.5" font-weight="bold" fill="#000" textLength="20.60" lengthAdjust="spacingAndGlyphs" >B</text>
<line x1="114.4" y1="465.3" x2="114.4" y2="690.5" stroke="#000" stroke-width="2.3"/>
<line x1="105" y1="689.4" x2="450.4" y2="689.4" stroke="#000" stroke-width="2.3"/>
<line x1="104.8" y1="689.40" x2="114.4" y2="689.40" stroke="#000" stroke-width="2.3"/>
<text x="92.88" y="695.60" font-size="17.9" font-weight="bold" fill="#000" textLength="9.96" lengthAdjust="spacing" >0</text>
<line x1="104.8" y1="615.07" x2="114.4" y2="615.07" stroke="#000" stroke-width="2.3"/>
<text x="92.65" y="621.27" font-size="17.9" font-weight="bold" fill="#000" textLength="9.96" lengthAdjust="spacing" >1</text>
<line x1="104.8" y1="540.73" x2="114.4" y2="540.73" stroke="#000" stroke-width="2.3"/>
<text x="92.86" y="546.93" font-size="17.9" font-weight="bold" fill="#000" textLength="9.96" lengthAdjust="spacing" >2</text>
<line x1="104.8" y1="466.40" x2="114.4" y2="466.40" stroke="#000" stroke-width="2.3"/>
<text x="92.79" y="472.60" font-size="17.9" font-weight="bold" fill="#000" textLength="9.96" lengthAdjust="spacing" >3</text>
<text transform="translate(82.30,666.90) rotate(-90)" x="-1.27" y="0" font-size="19" font-weight="bold" fill="#000" textLength="182.52" lengthAdjust="spacing" style="white-space:pre">Relative&#160; mRNA level</text>
<rect x="131.5" y="428.9" width="23.4" height="11.3" fill="#000"/>
<rect x="132.5" y="454.8" width="21.4" height="8.7" fill="#a0a0a0" stroke="#000" stroke-width="2"/>
<text x="168.30" y="440.80" font-size="17.9" font-weight="bold" fill="#000" textLength="39.99" lengthAdjust="spacing" >IRF7</text>
<text x="168.30" y="465.50" font-size="17.9" font-weight="bold" fill="#000" textLength="52.30" lengthAdjust="spacing" >PD-L1</text>
<line x1="139.10" y1="614.6" x2="139.10" y2="611.8" stroke="#000" stroke-width="2.2"/>
<line x1="134" y1="611.8" x2="144.6" y2="611.8" stroke="#000" stroke-width="2.2"/>
<rect x="127.1" y="614.6" width="24.00" height="74.80" fill="#000"/>
<line x1="176.45" y1="564.4" x2="176.45" y2="549.2" stroke="#000" stroke-width="2.2"/>
<line x1="170.4" y1="549.2" x2="182.5" y2="549.2" stroke="#000" stroke-width="2.2"/>
<rect x="164.5" y="564.4" width="23.90" height="125.00" fill="#000"/>
<line x1="213.80" y1="681.7" x2="213.80" y2="676.1" stroke="#000" stroke-width="2.2"/>
<line x1="207.7" y1="676.1" x2="219.4" y2="676.1" stroke="#000" stroke-width="2.2"/>
<rect x="201.9" y="681.7" width="23.80" height="7.70" fill="#000"/>
<line x1="251.20" y1="680.8" x2="251.20" y2="679.6" stroke="#000" stroke-width="2.2"/>
<line x1="245.3" y1="679.6" x2="257.1" y2="679.6" stroke="#000" stroke-width="2.2"/>
<rect x="239.3" y="680.8" width="23.80" height="8.60" fill="#000"/>
<line x1="312.75" y1="583.6" x2="312.75" y2="574.7" stroke="#000" stroke-width="2.2"/>
<line x1="307" y1="574.7" x2="318.9" y2="574.7" stroke="#000" stroke-width="2.2"/>
<rect x="301.80" y="584.60" width="21.90" height="104.80" fill="#a0a0a0" stroke="#000" stroke-width="2.1"/>
<line x1="350.35" y1="507.4" x2="350.35" y2="495.7" stroke="#000" stroke-width="2.2"/>
<line x1="345.3" y1="495.7" x2="356.4" y2="495.7" stroke="#000" stroke-width="2.2"/>
<rect x="339.50" y="508.40" width="21.70" height="181.00" fill="#a0a0a0" stroke="#000" stroke-width="2.1"/>
<line x1="387.35" y1="615.5" x2="387.35" y2="608.6" stroke="#000" stroke-width="2.2"/>
<line x1="381.4" y1="608.6" x2="393.3" y2="608.6" stroke="#000" stroke-width="2.2"/>
<rect x="376.60" y="616.50" width="21.50" height="72.90" fill="#a0a0a0" stroke="#000" stroke-width="2.1"/>
<line x1="424.65" y1="612.7" x2="424.65" y2="601.3" stroke="#000" stroke-width="2.2"/>
<line x1="418.8" y1="601.3" x2="430.3" y2="601.3" stroke="#000" stroke-width="2.2"/>
<rect x="414.00" y="613.70" width="21.30" height="75.70" fill="#a0a0a0" stroke="#000" stroke-width="2.1"/>
<line x1="131.3" y1="535.1" x2="186.2" y2="535.1" stroke="#000" stroke-width="2"/>
<path d="M148.40,519.10V525.70M145.54,520.75L151.26,524.05M145.54,524.05L151.26,520.75" stroke="#000" stroke-width="1.5" stroke-linecap="round" fill="none"/>
<circle cx="148.40" cy="522.40" r="1.42" fill="#000"/>
<path d="M158.10,519.10V525.70M155.24,520.75L160.96,524.05M155.24,524.05L160.96,520.75" stroke="#000" stroke-width="1.5" stroke-linecap="round" fill="none"/>
<circle cx="158.10" cy="522.40" r="1.42" fill="#000"/>
<path d="M167.70,519.10V525.70M164.84,520.75L170.56,524.05M164.84,524.05L170.56,520.75" stroke="#000" stroke-width="1.5" stroke-linecap="round" fill="none"/>
<circle cx="167.70" cy="522.40" r="1.42" fill="#000"/>
<line x1="206.1" y1="659.3" x2="261" y2="659.3" stroke="#000" stroke-width="2"/>
<text x="225.38" y="649.70" font-size="15.5" font-weight="normal" fill="#000" textLength="15.68" lengthAdjust="spacing" >ns</text>
<line x1="309.2" y1="490.5" x2="363.2" y2="490.5" stroke="#000" stroke-width="2"/>
<path d="M325.50,474.90V481.50M322.64,476.55L328.36,479.85M322.64,479.85L328.36,476.55" stroke="#000" stroke-width="1.5" stroke-linecap="round" fill="none"/>
<circle cx="325.50" cy="478.20" r="1.42" fill="#000"/>
<path d="M335.20,474.90V481.50M332.34,476.55L338.06,479.85M332.34,479.85L338.06,476.55" stroke="#000" stroke-width="1.5" stroke-linecap="round" fill="none"/>
<circle cx="335.20" cy="478.20" r="1.42" fill="#000"/>
<path d="M344.90,474.90V481.50M342.04,476.55L347.76,479.85M342.04,479.85L347.76,476.55" stroke="#000" stroke-width="1.5" stroke-linecap="round" fill="none"/>
<circle cx="344.90" cy="478.20" r="1.42" fill="#000"/>
<path d="M309.8,459.1V471.8M309.8,465.5H380.9M380.9,459.1V471.8" stroke="#000" stroke-width="2" fill="none"/>
<path d="M340.50,449.60V456.20M337.64,451.25L343.36,454.55M337.64,454.55L343.36,451.25" stroke="#000" stroke-width="1.5" stroke-linecap="round" fill="none"/>
<circle cx="340.50" cy="452.90" r="1.42" fill="#000"/>
<path d="M350.10,449.60V456.20M347.24,451.25L352.96,454.55M347.24,454.55L352.96,451.25" stroke="#000" stroke-width="1.5" stroke-linecap="round" fill="none"/>
<circle cx="350.10" cy="452.90" r="1.42" fill="#000"/>
<path d="M349.7,430.5V443.5M349.7,436.9H426.1M426.1,430.5V443.5" stroke="#000" stroke-width="2" fill="none"/>
<path d="M378.30,421.30V427.90M375.44,422.95L381.16,426.25M375.44,426.25L381.16,422.95" stroke="#000" stroke-width="1.5" stroke-linecap="round" fill="none"/>
<circle cx="378.30" cy="424.60" r="1.42" fill="#000"/>
<path d="M387.90,421.30V427.90M385.04,422.95L390.76,426.25M385.04,426.25L390.76,422.95" stroke="#000" stroke-width="1.5" stroke-linecap="round" fill="none"/>
<circle cx="387.90" cy="424.60" r="1.42" fill="#000"/>
<path d="M397.50,421.30V427.90M394.64,422.95L400.36,426.25M394.64,426.25L400.36,422.95" stroke="#000" stroke-width="1.5" stroke-linecap="round" fill="none"/>
<circle cx="397.50" cy="424.60" r="1.42" fill="#000"/>
<line x1="380.4" y1="589.3" x2="434.4" y2="589.3" stroke="#000" stroke-width="2"/>
<text x="399.58" y="579.50" font-size="15.5" font-weight="normal" fill="#000" textLength="14.98" lengthAdjust="spacing" >ns</text>
<text x="18.61" y="717.70" font-size="19.2" font-weight="bold" fill="#000" textLength="97.05" lengthAdjust="spacing" >DSF(80μM)</text>
<text x="67.33" y="742.60" font-size="19.2" font-weight="bold" fill="#000" textLength="47.90" lengthAdjust="spacing" >si-NC</text>
<text x="53.53" y="767.50" font-size="19.2" font-weight="bold" fill="#000" textLength="61.72" lengthAdjust="spacing" >si-IRF7</text>
<rect x="136.35" y="710.20" width="7.50" height="3.40" fill="#000"/>
<rect x="170.50" y="710.35" width="13.60" height="3.10" fill="#000"/>
<rect x="175.90" y="705.10" width="2.80" height="13.60" fill="#000"/>
<rect x="210.45" y="710.20" width="7.50" height="3.40" fill="#000"/>
<rect x="245.20" y="710.35" width="13.60" height="3.10" fill="#000"/>
<rect x="250.60" y="705.10" width="2.80" height="13.60" fill="#000"/>
<rect x="309.75" y="710.20" width="7.50" height="3.40" fill="#000"/>
<rect x="344.30" y="710.35" width="13.60" height="3.10" fill="#000"/>
<rect x="349.70" y="705.10" width="2.80" height="13.60" fill="#000"/>
<rect x="384.25" y="710.20" width="7.50" height="3.40" fill="#000"/>
<rect x="418.80" y="710.35" width="13.60" height="3.10" fill="#000"/>
<rect x="424.20" y="705.10" width="2.80" height="13.60" fill="#000"/>
<rect x="133.30" y="734.55" width="13.60" height="3.10" fill="#000"/>
<rect x="138.70" y="729.30" width="2.80" height="13.60" fill="#000"/>
<rect x="170.50" y="734.55" width="13.60" height="3.10" fill="#000"/>
<rect x="175.90" y="729.30" width="2.80" height="13.60" fill="#000"/>
<rect x="210.45" y="734.40" width="7.50" height="3.40" fill="#000"/>
<rect x="248.25" y="734.40" width="7.50" height="3.40" fill="#000"/>
<rect x="306.70" y="734.55" width="13.60" height="3.10" fill="#000"/>
<rect x="312.10" y="729.30" width="2.80" height="13.60" fill="#000"/>
<rect x="344.30" y="734.55" width="13.60" height="3.10" fill="#000"/>
<rect x="349.70" y="729.30" width="2.80" height="13.60" fill="#000"/>
<rect x="384.25" y="734.40" width="7.50" height="3.40" fill="#000"/>
<rect x="421.85" y="734.40" width="7.50" height="3.40" fill="#000"/>
<rect x="136.35" y="760.10" width="7.50" height="3.40" fill="#000"/>
<rect x="173.55" y="760.10" width="7.50" height="3.40" fill="#000"/>
<rect x="207.40" y="760.25" width="13.60" height="3.10" fill="#000"/>
<rect x="212.80" y="755.00" width="2.80" height="13.60" fill="#000"/>
<rect x="245.20" y="760.25" width="13.60" height="3.10" fill="#000"/>
<rect x="250.60" y="755.00" width="2.80" height="13.60" fill="#000"/>
<rect x="309.75" y="760.10" width="7.50" height="3.40" fill="#000"/>
<rect x="347.35" y="760.10" width="7.50" height="3.40" fill="#000"/>
<rect x="381.20" y="760.25" width="13.60" height="3.10" fill="#000"/>
<rect x="386.60" y="755.00" width="2.80" height="13.60" fill="#000"/>
<rect x="418.80" y="760.25" width="13.60" height="3.10" fill="#000"/>
<rect x="424.20" y="755.00" width="2.80" height="13.60" fill="#000"/>
<text x="592.42" y="445.60" font-size="29.6" font-weight="bold" fill="#000" textLength="20.87" lengthAdjust="spacingAndGlyphs" >C</text>
<defs><filter id="b05" filterUnits="userSpaceOnUse" x="600" y="550" width="710" height="180"><feGaussianBlur stdDeviation="0.7"/></filter><filter id="b08" filterUnits="userSpaceOnUse" x="600" y="550" width="710" height="180"><feGaussianBlur stdDeviation="1.0"/></filter><filter id="b1" filterUnits="userSpaceOnUse" x="600" y="550" width="710" height="180"><feGaussianBlur stdDeviation="1.3"/></filter><filter id="b15" filterUnits="userSpaceOnUse" x="600" y="550" width="710" height="180"><feGaussianBlur stdDeviation="1.7"/></filter><filter id="b2" filterUnits="userSpaceOnUse" x="600" y="550" width="710" height="180"><feGaussianBlur stdDeviation="2.2"/></filter><filter id="b3" filterUnits="userSpaceOnUse" x="600" y="550" width="710" height="180"><feGaussianBlur stdDeviation="3.0"/></filter><filter id="b4" filterUnits="userSpaceOnUse" x="600" y="550" width="710" height="180"><feGaussianBlur stdDeviation="4.5"/></filter><linearGradient id="gGapB" x1="0" y1="0" x2="0" y2="1"><stop offset="0" stop-color="#aaaaaa"/><stop offset="0.45" stop-color="#b3b3b3"/><stop offset="1" stop-color="#c2c2c2"/></linearGradient><clipPath id="cIrfB"><rect x="713.8" y="567.5" width="196.4" height="41.3"/></clipPath><clipPath id="cPdB"><rect x="713.8" y="618.1" width="196.4" height="42"/></clipPath><clipPath id="cGapB"><rect x="715.4" y="670.6" width="194.8" height="46"/></clipPath><clipPath id="cIrfM"><rect x="1110" y="565.8" width="174.3" height="48.4"/></clipPath><clipPath id="cPdM"><rect x="1104.2" y="621.4" width="184.7" height="45.8"/></clipPath><clipPath id="cGapM"><rect x="1104.2" y="675.6" width="185" height="42.5"/></clipPath></defs>
<rect x="713.8" y="567.5" width="196.4" height="41.3" fill="#a9a9a9"/>
<g clip-path="url(#cIrfB)">
<rect x="705" y="560" width="14" height="55" fill="#b6b6b6" filter="url(#b3)" opacity="1.0"/>
<rect x="722" y="562" width="80" height="14" fill="#b2b2b2" filter="url(#b3)" opacity="1.0"/>
<rect x="719" y="589" width="90" height="26" fill="#9c9c9c" filter="url(#b2)" opacity="1.0"/>
<rect x="812" y="596" width="95" height="20" fill="#bcbcbc" filter="url(#b3)" opacity="1.0"/>
<rect x="896" y="560" width="20" height="55" fill="#cdcdcd" filter="url(#b3)" opacity="1.0"/>
<rect x="808" y="570" width="8" height="40" fill="#b2b2b2" filter="url(#b2)" opacity="1.0"/>
<rect x="763.5" y="592" width="5" height="20" fill="#a8a8a8" filter="url(#b15)" opacity="1.0"/>
<path d="M723,590 C725,588 732,587.3 742,587.3 C752,587.3 759,587.5 762,588.5" fill="none" stroke="#727272" stroke-width="7" stroke-linecap="round" stroke-linejoin="round" filter="url(#b2)" opacity="1.0"/>
<path d="M771,589 C773,587 780,586.3 788,586.3 C797,586.3 803,586.5 805.5,587.5" fill="none" stroke="#6c6c6c" stroke-width="7" stroke-linecap="round" stroke-linejoin="round" filter="url(#b2)" opacity="1.0"/>
<path d="M721.5,590.5 C722.5,586.5 728,585 742,584.9 C752,584.9 759,585 762.5,586.4" fill="none" stroke="#3e3e3e" stroke-width="4.2" stroke-linecap="round" stroke-linejoin="round" filter="url(#b1)" opacity="1.0"/>
<path d="M769,589.5 C770,585.5 776,584.1 788,584 C797,584 803,584.2 806,585.5" fill="none" stroke="#333333" stroke-width="4.4" stroke-linecap="round" stroke-linejoin="round" filter="url(#b1)" opacity="1.0"/>
<path d="M818,589.8 C828,589.4 840,589.6 850.5,590.2" fill="none" stroke="#555555" stroke-width="4.6" stroke-linecap="round" stroke-linejoin="round" filter="url(#b1)" opacity="1.0"/>
<path d="M863,590.4 L872,590.4 C875,590.4 877,586.2 881.5,586.2 C886,586.2 887.5,590.6 891,590.8 L898,591.2" fill="none" stroke="#3e3e3e" stroke-width="4" stroke-linecap="round" stroke-linejoin="round" filter="url(#b1)" opacity="1.0"/>
<circle cx="882" cy="596.2" r="5.8" fill="#aaaaaa" stroke="#929292" stroke-width="1.2" filter="url(#b1)"/>
</g>
<rect x="713.8" y="618.1" width="196.4" height="42" fill="#f3f3f3"/>
<g clip-path="url(#cPdB)">
<rect x="720" y="618" width="36" height="16" fill="#e0e0e0" filter="url(#b3)" opacity="1.0"/>
<rect x="770" y="622" width="34" height="14" fill="#e8e8e8" filter="url(#b3)" opacity="1.0"/>
<rect x="818" y="620" width="34" height="16" fill="#e4e4e4" filter="url(#b3)" opacity="1.0"/>
<rect x="864" y="624" width="36" height="12" fill="#ececec" filter="url(#b3)" opacity="1.0"/>
<path d="M720.5,635.8 C730,634.5 740,635.5 754,637.5" fill="none" stroke="#454545" stroke-width="4.6" stroke-linecap="round" stroke-linejoin="round" filter="url(#b15)" opacity="1.0"/>
<path d="M744,636.6 L754,637.6" fill="none" stroke="#404040" stroke-width="4.4" stroke-linecap="round" stroke-linejoin="round" filter="url(#b15)" opacity="1.0"/>
<path d="M771,638.3 C780,637.5 790,639.5 802,639" fill="none" stroke="#808080" stroke-width="3.8" stroke-linecap="round" stroke-linejoin="round" filter="url(#b15)" opacity="1.0"/>
<path d="M819,639.3 C828,637.8 840,638 849.5,638.5" fill="none" stroke="#7a7a7a" stroke-width="4" stroke-linecap="round" stroke-linejoin="round" filter="url(#b15)" opacity="1.0"/>
<path d="M866,638 C878,637.3 890,637.3 899,637.8" fill="none" stroke="#cccccc" stroke-width="3.4" stroke-linecap="round" stroke-linejoin="round" filter="url(#b15)" opacity="1.0"/>
</g>
<rect x="715.4" y="670.6" width="194.8" height="46" fill="url(#gGapB)"/>
<g clip-path="url(#cGapB)">
<rect x="708" y="665" width="12" height="56" fill="#c6c6c6" filter="url(#b2)" opacity="1.0"/>
<rect x="725" y="668" width="40" height="12" fill="#acacac" filter="url(#b3)" opacity="1.0"/>
<rect x="902" y="665" width="12" height="56" fill="#d6d6d6" filter="url(#b2)" opacity="1.0"/>
<rect x="760" y="668" width="8" height="52" fill="#bcbcbc" filter="url(#b2)" opacity="1.0"/>
<rect x="805" y="668" width="10" height="52" fill="#bababa" filter="url(#b2)" opacity="1.0"/>
<rect x="852" y="668" width="10" height="52" fill="#bcbcbc" filter="url(#b2)" opacity="1.0"/>
<path d="M718.5,700.5 C721,697.5 725,696 732,694.8 L746,693.2" fill="none" stroke="#4a4a4a" stroke-width="3" stroke-linecap="round" stroke-linejoin="round" filter="url(#b15)" opacity="1.0"/>
<path d="M734,693.8 C742,692.5 750,691.5 757,692" fill="none" stroke="#181818" stroke-width="6" stroke-linecap="round" stroke-linejoin="round" filter="url(#b15)" opacity="1.0"/>
<path d="M769,692.5 C778,690.8 790,691.5 799,690.5" fill="none" stroke="#141414" stroke-width="6.2" stroke-linecap="round" stroke-linejoin="round" filter="url(#b15)" opacity="1.0"/>
<path d="M797,689.5 L801,688.5" fill="none" stroke="#101010" stroke-width="5" stroke-linecap="round" stroke-linejoin="round" filter="url(#b1)" opacity="1.0"/>
<path d="M818,692 C826,690.5 838,690.5 849,691.5" fill="none" stroke="#1c1c1c" stroke-width="5.6" stroke-linecap="round" stroke-linejoin="round" filter="url(#b15)" opacity="1.0"/>
<path d="M864,692 C872,690 876,689.5 881,689.5 C888,689.5 893,690.5 899.5,692.5" fill="none" stroke="#1a1a1a" stroke-width="4.6" stroke-linecap="round" stroke-linejoin="round" filter="url(#b15)" opacity="1.0"/>
<ellipse cx="881.5" cy="690.3" rx="9" ry="3.3" fill="#0e0e0e" filter="url(#b1)" opacity="1.0"/>
</g>
<rect x="1110" y="565.8" width="174.3" height="48.4" fill="#f8f8f8"/>
<g clip-path="url(#cIrfM)">
<rect x="1112" y="570" width="36" height="14" fill="#f0f0f0" filter="url(#b3)" opacity="1.0"/>
<rect x="1157" y="570" width="34" height="14" fill="#f0f0f0" filter="url(#b3)" opacity="1.0"/>
<path d="M1114.5,587 C1125,586.5 1138,587 1148,588" fill="none" stroke="#727272" stroke-width="7" stroke-linecap="round" stroke-linejoin="round" filter="url(#b2)" opacity="1.0"/>
<path d="M1158.5,587.3 C1168,586.5 1178,587.5 1188,590" fill="none" stroke="#6a6a6a" stroke-width="7.5" stroke-linecap="round" stroke-linejoin="round" filter="url(#b2)" opacity="1.0"/>
<path d="M1204,589.5 C1214,588.5 1225,588.5 1234,589.3" fill="none" stroke="#ababab" stroke-width="5" stroke-linecap="round" stroke-linejoin="round" filter="url(#b2)" opacity="1.0"/>
<path d="M1248,590.8 C1256,589.3 1266,589 1272,590 C1276,591 1278,592 1280,593.5" fill="none" stroke="#8e8e8e" stroke-width="5" stroke-linecap="round" stroke-linejoin="round" filter="url(#b2)" opacity="1.0"/>
</g>
<rect x="1104.2" y="621.4" width="184.7" height="45.8" fill="#ededed"/>
<g clip-path="url(#cPdM)">
<rect x="1110" y="618" width="40" height="22" fill="#d2d2d2" filter="url(#b3)" opacity="1.0"/>
<rect x="1158" y="620" width="36" height="20" fill="#dadada" filter="url(#b3)" opacity="1.0"/>
<rect x="1201" y="618" width="36" height="22" fill="#d4d4d4" filter="url(#b3)" opacity="1.0"/>
<rect x="1246" y="626" width="38" height="12" fill="#e6e6e6" filter="url(#b3)" opacity="1.0"/>
<rect x="1150" y="620" width="8" height="50" fill="#f3f3f3" filter="url(#b2)" opacity="1.0"/>
<rect x="1238" y="620" width="8" height="50" fill="#f3f3f3" filter="url(#b2)" opacity="1.0"/>
<path d="M1116,638.8 C1125,638.5 1135,639 1146,640" fill="none" stroke="#0c0c0c" stroke-width="7.4" stroke-linecap="round" stroke-linejoin="round" filter="url(#b1)" opacity="1.0"/>
<path d="M1138,641 L1146,641.5" fill="none" stroke="#080808" stroke-width="6.5" stroke-linecap="round" stroke-linejoin="round" filter="url(#b1)" opacity="1.0"/>
<path d="M1162,641.3 C1170,642.5 1180,643 1190,642" fill="none" stroke="#3a3a3a" stroke-width="4" stroke-linecap="round" stroke-linejoin="round" filter="url(#b15)" opacity="1.0"/>
<path d="M1161.5,641.5 L1165,641.5" fill="none" stroke="#222" stroke-width="4.5" stroke-linecap="round" stroke-linejoin="round" filter="url(#b1)" opacity="1.0"/>
<path d="M1205,642.8 C1214,641.8 1224,641.5 1233,640.8" fill="none" stroke="#363636" stroke-width="4.6" stroke-linecap="round" stroke-linejoin="round" filter="url(#b15)" opacity="1.0"/>
<path d="M1250,640.3 C1260,639.5 1270,639.3 1280,639.8" fill="none" stroke="#b0b0b0" stroke-width="3.6" stroke-linecap="round" stroke-linejoin="round" filter="url(#b15)" opacity="1.0"/>
</g>
<rect x="1104.2" y="675.6" width="185" height="42.5" fill="#f1f1f1"/>
<g clip-path="url(#cGapM)">
<path d="M1112.5,697.5 C1118,695.5 1130,695.5 1143,695.5" fill="none" stroke="#000" stroke-width="9" stroke-linecap="round" stroke-linejoin="round" filter="url(#b1)" opacity="1.0"/>
<path d="M1159.5,693.5 C1168,693.5 1176,693.5 1185,694" fill="none" stroke="#000" stroke-width="11" stroke-linecap="round" stroke-linejoin="round" filter="url(#b1)" opacity="1.0"/>
<path d="M1202,694.2 C1212,693.8 1222,693.8 1231,694.5" fill="none" stroke="#000" stroke-width="8" stroke-linecap="round" stroke-linejoin="round" filter="url(#b1)" opacity="1.0"/>
<path d="M1246,696 C1256,695.5 1266,696 1275,697 C1278,697.5 1280,698.5 1281.5,699.5" fill="none" stroke="#000" stroke-width="9.5" stroke-linecap="round" stroke-linejoin="round" filter="url(#b1)" opacity="1.0"/>
</g>
<text x="635.82" y="502.40" font-size="19.4" font-weight="bold" fill="#000" textLength="64.43" lengthAdjust="spacing" >si-IRF7</text>
<text x="663.70" y="538.90" font-size="19.4" font-weight="bold" fill="#000" textLength="38.22" lengthAdjust="spacing" >DSF</text>
<text x="651.36" y="596.30" font-size="23" font-weight="bold" fill="#000" textLength="50.35" lengthAdjust="spacing" >IRF7</text>
<text x="634.76" y="647.20" font-size="23" font-weight="bold" fill="#000" textLength="63.89" lengthAdjust="spacing" >PD-L1</text>
<text x="617.36" y="702.80" font-size="23" font-weight="bold" fill="#000" textLength="82.19" lengthAdjust="spacing" >GAPDH</text>
<text x="776.35" y="757.40" font-size="26.1" font-weight="bold" fill="#000" textLength="86.12" lengthAdjust="spacing" >BT-549</text>
<text x="1008.72" y="505.30" font-size="19.4" font-weight="bold" fill="#000" textLength="63.73" lengthAdjust="spacing" >si-IRF7</text>
<text x="1036.70" y="542.00" font-size="19.4" font-weight="bold" fill="#000" textLength="38.02" lengthAdjust="spacing" >DSF</text>
<text x="1023.66" y="599.50" font-size="23" font-weight="bold" fill="#000" textLength="50.15" lengthAdjust="spacing" >IRF7</text>
<text x="1007.26" y="650.30" font-size="23" font-weight="bold" fill="#000" textLength="64.99" lengthAdjust="spacing" >PD-L1</text>
<text x="990.06" y="705.20" font-size="23" font-weight="bold" fill="#000" textLength="83.09" lengthAdjust="spacing" >GAPDH</text>
<text x="1118.05" y="757.40" font-size="26.1" font-weight="bold" fill="#000" textLength="156.68" lengthAdjust="spacing" >MDA-MB-231</text>
<rect x="740.95" y="494.40" width="5.30" height="2.40" fill="#000"/>
<rect x="787.65" y="494.40" width="5.30" height="2.40" fill="#000"/>
<rect x="834.75" y="495.05" width="9.50" height="2.10" fill="#000"/>
<rect x="838.45" y="491.35" width="2.10" height="9.50" fill="#000"/>
<rect x="880.45" y="495.45" width="9.50" height="2.10" fill="#000"/>
<rect x="884.15" y="491.75" width="2.10" height="9.50" fill="#000"/>
<rect x="739.85" y="531.05" width="9.50" height="2.10" fill="#000"/>
<rect x="743.55" y="527.35" width="2.10" height="9.50" fill="#000"/>
<rect x="788.35" y="530.60" width="5.30" height="2.40" fill="#000"/>
<rect x="834.75" y="531.05" width="9.50" height="2.10" fill="#000"/>
<rect x="838.45" y="527.35" width="2.10" height="9.50" fill="#000"/>
<rect x="882.85" y="530.70" width="5.30" height="2.40" fill="#000"/>
<rect x="1122.75" y="497.60" width="5.30" height="2.40" fill="#000"/>
<rect x="1168.65" y="497.10" width="5.30" height="2.40" fill="#000"/>
<rect x="1215.85" y="497.95" width="9.50" height="2.10" fill="#000"/>
<rect x="1219.55" y="494.25" width="2.10" height="9.50" fill="#000"/>
<rect x="1261.75" y="498.55" width="9.50" height="2.10" fill="#000"/>
<rect x="1265.45" y="494.85" width="2.10" height="9.50" fill="#000"/>
<rect x="1121.65" y="534.25" width="9.50" height="2.10" fill="#000"/>
<rect x="1125.35" y="530.55" width="2.10" height="9.50" fill="#000"/>
<rect x="1169.45" y="534.60" width="5.30" height="2.40" fill="#000"/>
<rect x="1216.25" y="534.95" width="9.50" height="2.10" fill="#000"/>
<rect x="1219.95" y="531.25" width="2.10" height="9.50" fill="#000"/>
<rect x="1264.15" y="534.80" width="5.30" height="2.40" fill="#000"/>
</g></svg>
</body></html>
